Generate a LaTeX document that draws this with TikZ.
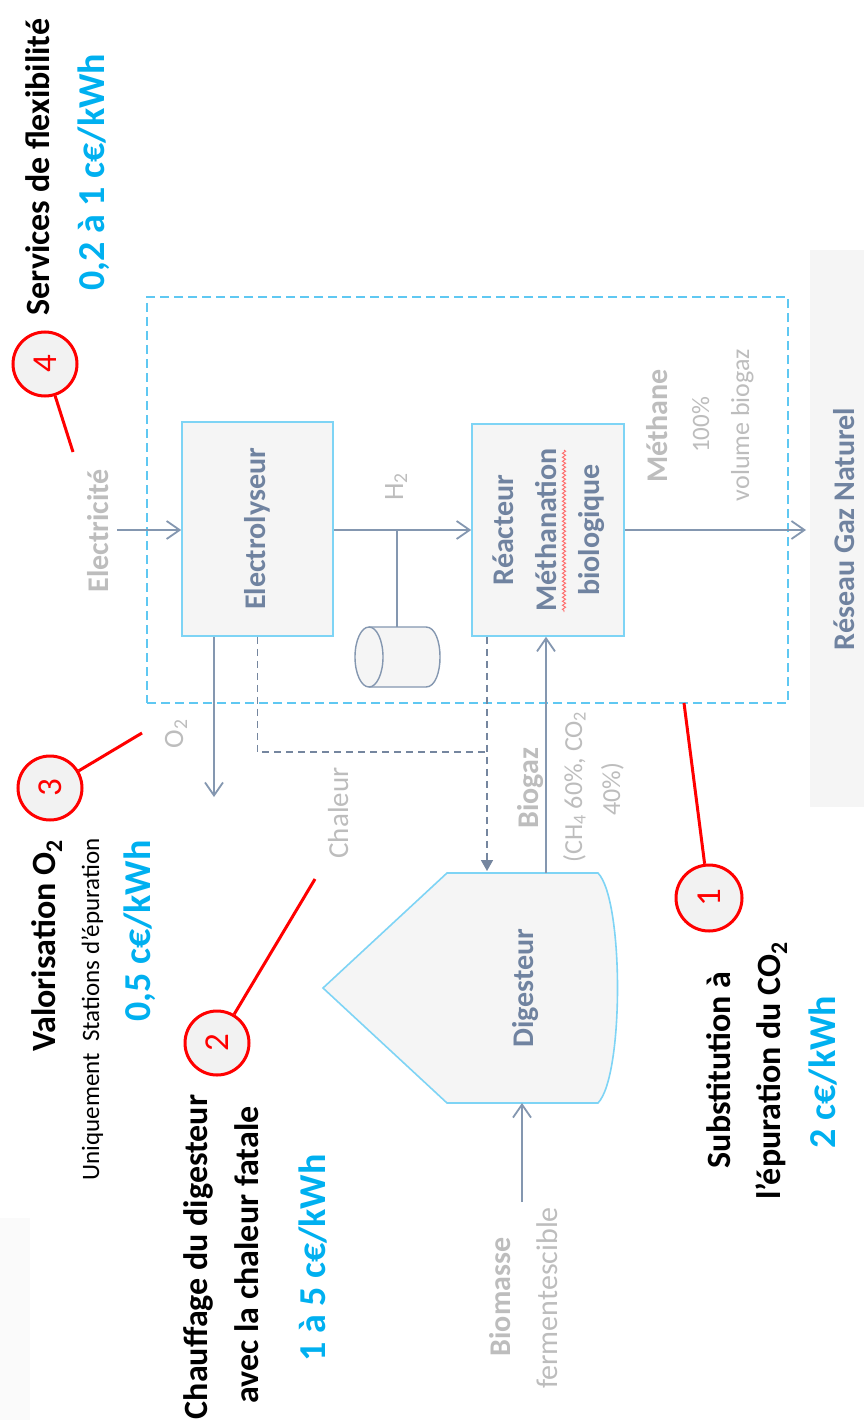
\documentclass[tikz,border=0pt]{standalone}
\usepackage{fontspec}
\setmainfont{Carlito}
\usetikzlibrary{arrows.meta,decorations.pathmorphing}
\definecolor{lblue}{HTML}{7ED4F5}
\definecolor{dblue}{HTML}{5FC8F2}
\definecolor{boxfill}{HTML}{F5F5F5}
\definecolor{faint}{HTML}{FAFAFA}
\definecolor{linec}{HTML}{8497B0}
\definecolor{heatc}{HTML}{75869F}
\definecolor{boxtxt}{HTML}{7083A0}
\definecolor{lgrey}{HTML}{BDBDBD}
\definecolor{valblue}{HTML}{00B0F0}
\definecolor{calloutfill}{HTML}{F2F2F2}
\definecolor{squig}{HTML}{FF6A6A}
\newcommand{\myfs}[1]{\fontsize{#1pt}{#1pt}\selectfont}
\tikzset{
  procbox/.style={draw=lblue, line width=1.6pt, fill=boxfill, inner sep=0pt, text=boxtxt, font=\myfs{30}\bfseries},
  conn/.style={draw=linec, line width=1.8pt},
  flow/.style={conn, -{Straight Barb[length=13pt,width=18pt]}},
  heatline/.style={draw=heatc, line width=1.6pt, dash pattern=on 7pt off 5pt},
  vtxt/.style={rotate=90, anchor=base, inner sep=0pt},
  callout/.style={circle, draw=red, line width=3pt, fill=calloutfill, minimum size=64pt, inner sep=0pt, text=red, font=\myfs{35}},
  redline/.style={draw=red, line width=3pt},
}
\begin{document}
\begin{tikzpicture}[x=1pt,y=-1pt]
\useasboundingbox (0,0) rectangle (864,1420);
\fill[white] (0,0) rectangle (864,1420);
% background panels
\node[fill=boxfill, minimum width=54pt, minimum height=557pt, inner sep=0pt] (gridpanel) at (837,528.5) {};
\node[fill=faint, minimum width=30pt, minimum height=202pt, inner sep=0pt] (faintpanel) at (15,1319) {};
% system boundary
\node[draw=dblue, line width=1.8pt, dash pattern=on 9pt off 5pt, minimum width=641pt, minimum height=406pt, inner sep=0pt] (sys) at (467.5,500) {};
% digester shape
\draw[draw=lblue, line width=1.6pt, fill=boxfill] (447,873) -- (598,873) .. controls (624,900) and (624,1076) .. (598,1103) -- (447,1103) -- (323,988) -- cycle;
% storage tank
\fill[boxfill] (369,627) -- (426,627) .. controls (444.7,627) and (444.7,687) .. (426,687) -- (369,687) -- cycle;
\draw[linec, line width=1.4pt] (369,627) -- (426,627) .. controls (444.7,627) and (444.7,687) .. (426,687) -- (369,687);
\draw[linec, line width=1.4pt, fill=boxfill] (369,657) ellipse [x radius=14pt, y radius=30pt];
% process boxes
\node[procbox, minimum width=151pt, minimum height=214pt] (elyz) at (257.5,529) {\rotatebox{90}{Electrolyseur}};
\node[procbox, minimum width=152pt, minimum height=212pt] (reac) at (548,530) {\rotatebox{90}{\fontsize{30pt}{43pt}\selectfont\begin{tabular}{@{}c@{}}Réacteur\\Méthanation\\biologique\end{tabular}}};
\draw[squig, line width=0.9pt, decorate, decoration={snake, amplitude=1.6pt, segment length=4pt}] (564,450) -- (564,612);
% coordinates
\coordinate (elecIn) at (117,530);
\coordinate (h2j) at (397,530);
\coordinate (tankTop) at (397,627);
\coordinate (o2Out) at (214,797);
\coordinate (heatJ) at (487,752);
\coordinate (digHeat) at (487,871);
\coordinate (digGas) at (546,873);
\coordinate (gridIn) at (806,530);
\coordinate (bioIn) at (522,1202);
\coordinate (digBot) at (522,1103);
% connectors
\draw[flow] (elecIn) -- (elecIn -| elyz.west);
\draw[flow] (elyz.east |- h2j) -- (reac.west |- h2j);
\draw[conn] (h2j) -- (tankTop);
\draw[flow] (o2Out |- elyz.south) -- (o2Out);
\draw[heatline] (elyz.south) -- (elyz.south |- heatJ) -- (heatJ);
\draw[heatline, -{Triangle[length=11pt,width=12pt]}] (heatJ |- reac.south) -- (digHeat);
\draw[flow] (digGas) -- (digGas |- reac.south);
\draw[flow] (reac.east |- h2j) -- (gridIn);
\draw[flow] (bioIn) -- (digBot);
% flow labels
\node[vtxt, font=\myfs{30}\bfseries, text=lgrey] (lElec) at (108,531) {Electricité};
\node[vtxt, font=\myfs{28}, text=lgrey] (lH2) at (403,487) {H\textsubscript{2}};
\node[vtxt, font=\myfs{28}, text=lgrey] (lO2) at (183,734) {O\textsubscript{2}};
\node[vtxt, font=\myfs{29}, text=lgrey] (lHeat) at (348,813) {Chaleur};
\node[vtxt, font=\myfs{30}\bfseries, text=lgrey] (lMeth) at (667,426) {Méthane};
\node[vtxt, font=\myfs{25}, text=lgrey] (lPct) at (709,425) {100\%};
\node[vtxt, font=\myfs{26}, text=lgrey] (lVol) at (749,425) {volume biogaz};
\node[vtxt, font=\myfs{30}\bfseries, text=boxtxt] (lGrid) at (854,529) {Réseau Gaz Naturel};
\node[vtxt, font=\myfs{30}\bfseries, text=lgrey] (lBiogaz) at (538,788) {Biogaz};
\node[vtxt, font=\myfs{26}, text=lgrey] (lComp1) at (582,787) {(CH\textsubscript{4} 60\%, CO\textsubscript{2}};
\node[vtxt, font=\myfs{26}, text=lgrey] (lComp2) at (620,789) {40\%)};
\node[vtxt, font=\myfs{30}\bfseries, text=boxtxt] (dig) at (533,988) {Digesteur};
\node[vtxt, font=\myfs{30}\bfseries, text=lgrey] (lBio1) at (510,1297) {Biomasse};
\node[vtxt, font=\myfs{30}, text=lgrey] (lBio2) at (557,1298) {fermentescible};
% value titles
\node[vtxt, font=\myfs{34}\bfseries] (t4a) at (49,167) {Services de flexibilité};
\node[vtxt, font=\myfs{38}\bfseries, text=valblue] (t4b) at (104,172) {0,2 à 1 c€/kWh};
\node[vtxt, anchor=base east, font=\myfs{34}\bfseries] (t3a) at (55,840) {Valorisation O\textsubscript{2}};
\node[vtxt, anchor=base east, font=\myfs{25}] (t3b) at (99,838) {Uniquement\ \ Stations d’épuration};
\node[vtxt, anchor=base east, font=\myfs{38}\bfseries, text=valblue] (t3c) at (150,840) {0,5 c€/kWh};
\node[vtxt, font=\myfs{34}\bfseries] (t2a) at (207,1257) {Chauffage du digesteur};
\node[vtxt, font=\myfs{34}\bfseries] (t2b) at (258,1255) {avec la chaleur fatale};
\node[vtxt, font=\myfs{38}\bfseries, text=valblue] (t2c) at (325,1258) {1 à 5 c€/kWh};
\node[vtxt, font=\myfs{34}\bfseries] (t1a) at (730,1070) {Substitution à};
\node[vtxt, font=\myfs{34}\bfseries] (t1b) at (780,1071) {l’épuration du CO\textsubscript{2}};
\node[vtxt, font=\myfs{38}\bfseries, text=valblue] (t1c) at (835,1072) {2 c€/kWh};
% callouts
\node[callout] (c4) at (45,364) {\rotatebox{90}{4}};
\node[callout] (c3) at (50,788) {\rotatebox{90}{3}};
\node[callout] (c2) at (217,1043) {\rotatebox{90}{2}};
\node[callout, minimum size=66pt] (c1) at (709,898) {\rotatebox{90}{1}};
\coordinate (r4) at (73,452);
\coordinate (r3) at (142,733);
\coordinate (r2) at (315,879);
\coordinate (r1) at (684,703);
\draw[redline] (c4) -- (r4);
\draw[redline] (c3) -- (r3);
\draw[redline] (c2) -- (r2);
\draw[redline] (c1) -- (r1);
\end{tikzpicture}
\end{document}
